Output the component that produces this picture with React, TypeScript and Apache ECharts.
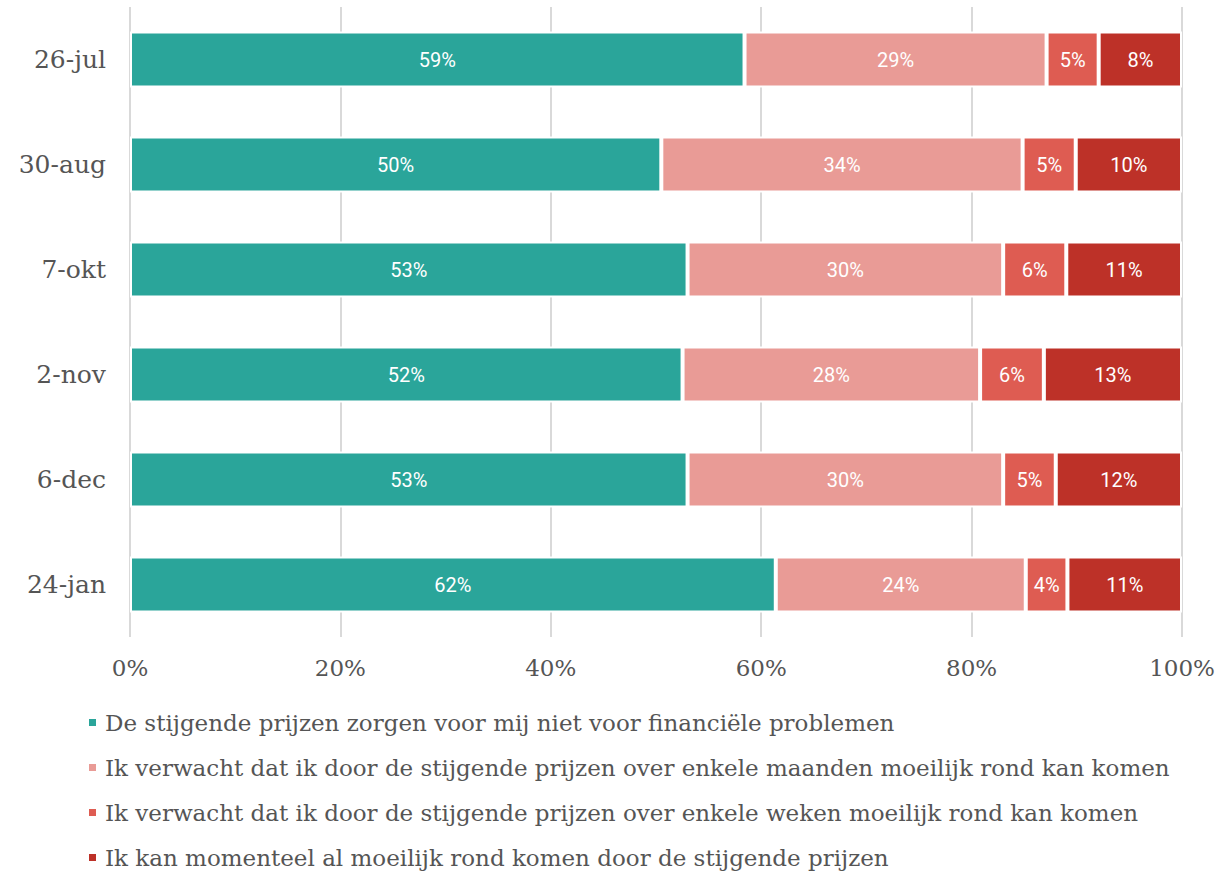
import React, { useEffect, useRef } from "react";
import * as echarts from "echarts";

const categories = ["26-jul", "30-aug", "7-okt", "2-nov", "6-dec", "24-jan"];
const seriesNames = [
  "De stijgende prijzen zorgen voor mij niet voor financiële problemen",
  "Ik verwacht dat ik door de stijgende prijzen over enkele maanden moeilijk rond kan komen",
  "Ik verwacht dat ik door de stijgende prijzen over enkele weken moeilijk rond kan komen",
  "Ik kan momenteel al moeilijk rond komen door de stijgende prijzen",
];
const noProblems = [59, 50, 53, 52, 53, 62];
const months = [29, 34, 30, 28, 30, 24];
const weeks = [5, 5, 6, 6, 5, 4];
const already = [8, 10, 11, 13, 12, 11];
const colors = ["#2aa59a", "#e99b96", "#de5c52", "#bd3128"];
const xTicks = [0, 20, 40, 60, 80, 100];

const raw = [noProblems, months, weeks, already];

export default function App() {
  const ref = useRef<HTMLDivElement>(null);
  useEffect(() => {
    if (!ref.current) return;
    const chart = echarts.init(ref.current, null, { renderer: "svg" });
    const totals = categories.map((_, i) => raw.reduce((s, arr) => s + arr[i], 0));
    const serif = "DejaVu Serif";
    chart.setOption({
      animation: false,
      grid: { left: 130, right: 42, top: 7, height: 630 },
      xAxis: {
        type: "value",
        min: 0,
        max: 100,
        interval: 20,
        axisLine: { show: false },
        axisTick: { show: false },
        splitLine: { show: true, lineStyle: { color: "#d9d9d9", width: 2 } },
        axisLabel: {
          formatter: (v: number) => (xTicks.includes(v) ? v + "%" : ""),
          fontFamily: serif,
          fontSize: 23,
          color: "#555",
          margin: 19,
        },
      },
      yAxis: {
        type: "category",
        data: categories,
        inverse: true,
        axisLine: { show: false },
        axisTick: { show: false },
        axisLabel: {
          fontFamily: serif,
          fontSize: 25,
          color: "#555",
          margin: 24,
        },
      },
      legend: {
        orient: "vertical",
        left: 87,
        top: 711,
        padding: 0,
        itemGap: 22,
        itemWidth: 9,
        itemHeight: 9,
        icon: "rect",
        textStyle: { fontFamily: serif, fontSize: 23, color: "#555", padding: [0, 0, 0, 3] },
        data: seriesNames,
      },
      series: raw.map((arr, si) => ({
        name: seriesNames[si],
        type: "bar",
        stack: "total",
        barWidth: 56,
        itemStyle: { color: colors[si], borderColor: "#fff", borderWidth: 2 },
        label: {
          show: true,
          position: "inside",
          color: "#fff",
          fontFamily: "Roboto",
          fontSize: 20,
          formatter: (p: any) => arr[p.dataIndex] + "%",
        },
        data: arr.map((v, i) => (v / totals[i]) * 100),
      })),
    });
    return () => chart.dispose();
  }, []);
  return (
    <div
      ref={ref}
      style={{ position: "fixed", left: 0, top: 0, width: 1224, height: 874, background: "#fff" }}
    />
  );
}
